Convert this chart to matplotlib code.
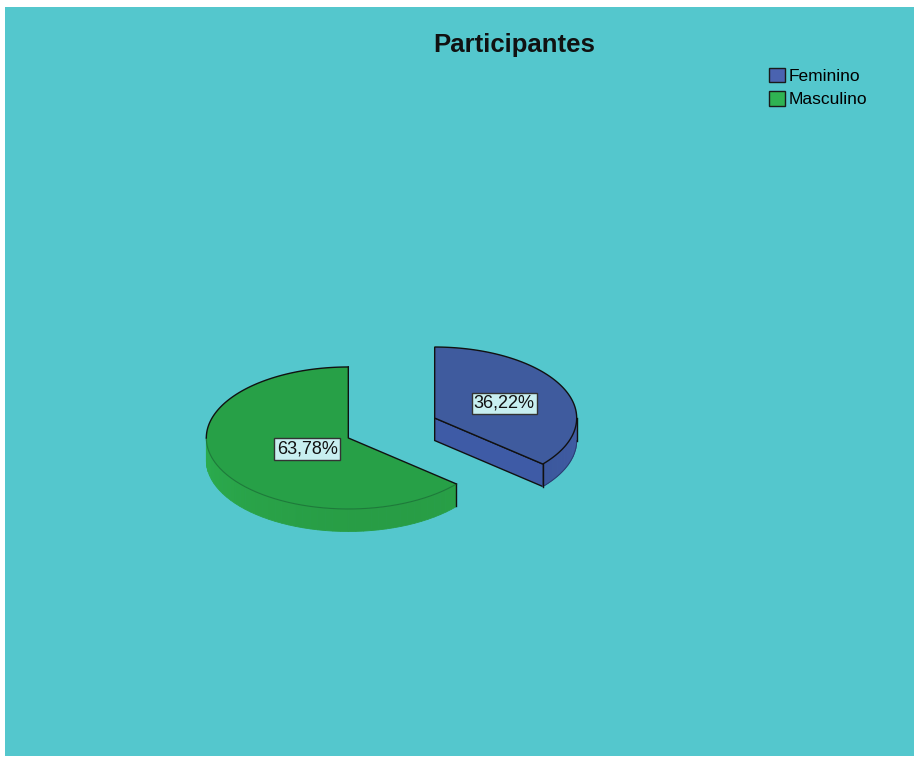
import matplotlib.pyplot as plt
import numpy as np
from matplotlib.patches import Polygon, Rectangle, Patch
from matplotlib.colors import to_rgb

plt.rcParams["font.family"] = ["Liberation Sans", "DejaVu Sans"]

categories = ["Feminino", "Masculino"]
percent = [36.22, 63.78]
value_labels = ["36,22%", "63,78%"]

top_colors = ["#3f5b9e", "#27a047"]
rim_dark = ["#3b579c", "#289d45"]
rim_light = ["#4863ad", "#2db654"]
cut_colors = ["#3e5ba6", "#2aa84b"]
legend_colors = ["#4a63b0", "#2fb352"]
bg = "#54c7cd"

# pie geometry in pixel units (image y axis pointing down)
cx, cy = 391.5, 428.0
a, b = 142.0, 71.0
depth = 22.5
explode = 0.335
label_r = [0.54, 0.32]


def pt(ox, oy, t, dz=0.0):
    r = np.deg2rad(t)
    return ox + a * np.cos(r), oy - b * np.sin(r) + dz


def arc(ox, oy, t0, t1, dz=0.0, n=None):
    n = n or max(int(abs(t1 - t0)), 2)
    ts = np.linspace(t0, t1, n)
    x, y = pt(ox, oy, ts, dz)
    return np.column_stack([x, y])


fig = plt.figure(figsize=(9.19, 7.58), dpi=100)
fig.patch.set_facecolor("white")
ax = fig.add_axes([0, 0, 1, 1])
ax.set_xlim(0, 919)
ax.set_ylim(758, 0)
ax.axis("off")
ax.add_patch(Rectangle((5, 7), 909, 749, facecolor=bg, edgecolor="none"))

start = 90.0
for i, p in enumerate(percent):
    t1 = start
    t0 = start - p * 3.6
    start = t0
    mid = (t0 + t1) / 2
    ox = cx + explode * a * np.cos(np.deg2rad(mid))
    oy = cy - explode * b * np.sin(np.deg2rad(mid))

    # visible cut faces
    for t, nrm in ((t0, t0 - 90), (t1, t1 + 90)):
        if np.sin(np.deg2rad(nrm)) < -0.05:
            ex, ey = pt(ox, oy, t)
            face = [(ox, oy), (ex, ey), (ex, ey + depth), (ox, oy + depth)]
            ax.add_patch(Polygon(face, closed=True, facecolor=cut_colors[i],
                                 edgecolor="#111111", lw=1.0, zorder=2))

    # visible rim (front half), shaded in strips
    c0 = np.array(to_rgb(rim_dark[i]))
    c1 = np.array(to_rgb(rim_light[i]))
    for k in (-360, 0, 360):
        lo, hi = max(t0, -180 + k), min(t1, k)
        if hi <= lo:
            continue
        edges = np.linspace(lo, hi, max(int((hi - lo) / 3), 2))
        for s0, s1 in zip(edges[:-1], edges[1:]):
            m = np.deg2rad((s0 + s1) / 2 - k)
            w = np.clip(0.5 - 0.5 * np.cos(m + np.deg2rad(75)), 0, 1)
            col = c0 + (c1 - c0) * w
            top = arc(ox, oy, s0, s1, n=4)
            bot = arc(ox, oy, s1, s0, dz=depth, n=4)
            ax.add_patch(Polygon(np.vstack([top, bot]), closed=True,
                                 facecolor=col, edgecolor=col, lw=0.6, zorder=2))
        ex, ey = pt(ox, oy, lo)
        fx, fy = pt(ox, oy, hi)
        if i == 0:
            ax.plot(*arc(ox, oy, lo, hi, dz=depth).T, color="#2a3d70", lw=0.7, zorder=3)
            ax.plot([ex, ex], [ey, ey + depth], color="#111111", lw=1.0, zorder=3)
        ax.plot([fx, fx], [fy, fy + depth], color="#111111", lw=1.0, zorder=3)

    # top face
    rim = arc(ox, oy, t0, t1)
    top_face = np.vstack([[(ox, oy)], rim])
    if i == 0:
        ax.add_patch(Polygon(top_face, closed=True, facecolor=top_colors[i],
                             edgecolor="#111111", lw=1.0, zorder=4))
    else:
        ax.add_patch(Polygon(top_face, closed=True, facecolor=top_colors[i],
                             edgecolor="none", zorder=4))
        ax.plot(*arc(ox, oy, -180, t1).T, color="#1e7a3a", lw=0.8, zorder=5)
        ax.plot(*arc(ox, oy, t0, -180).T, color="#111111", lw=1.0, zorder=5)
        ex, ey = pt(ox, oy, t0)
        fx, fy = pt(ox, oy, t1)
        ax.plot([ex, ox, fx], [ey, oy, fy], color="#111111", lw=1.0, zorder=5)

    lx = ox + label_r[i] * a * np.cos(np.deg2rad(mid))
    ly = oy - label_r[i] * b * np.sin(np.deg2rad(mid))
    ax.text(lx, ly + 1.5, value_labels[i], ha="center", va="center", fontsize=13,
            color="#111111", zorder=6,
            bbox=dict(boxstyle="square,pad=0.12", facecolor="#c8eff0",
                      edgecolor="#333333", lw=1.0))

ax.text(514, 45, "Participantes", ha="center", va="center", fontsize=18.5,
        fontweight="bold", color="#111111")

handles = [Patch(facecolor=c, edgecolor="#1a1a1a", lw=1.0) for c in legend_colors]
ax.legend(handles, categories, loc="upper left", bbox_to_anchor=(769 / 919, 1 - 68 / 758),
          frameon=False, fontsize=12.5, handlelength=0.9, handleheight=0.9,
          handletextpad=0.25, labelspacing=0.4, borderpad=0, borderaxespad=0)

fig.savefig("out.png", dpi=100, facecolor=fig.get_facecolor())
